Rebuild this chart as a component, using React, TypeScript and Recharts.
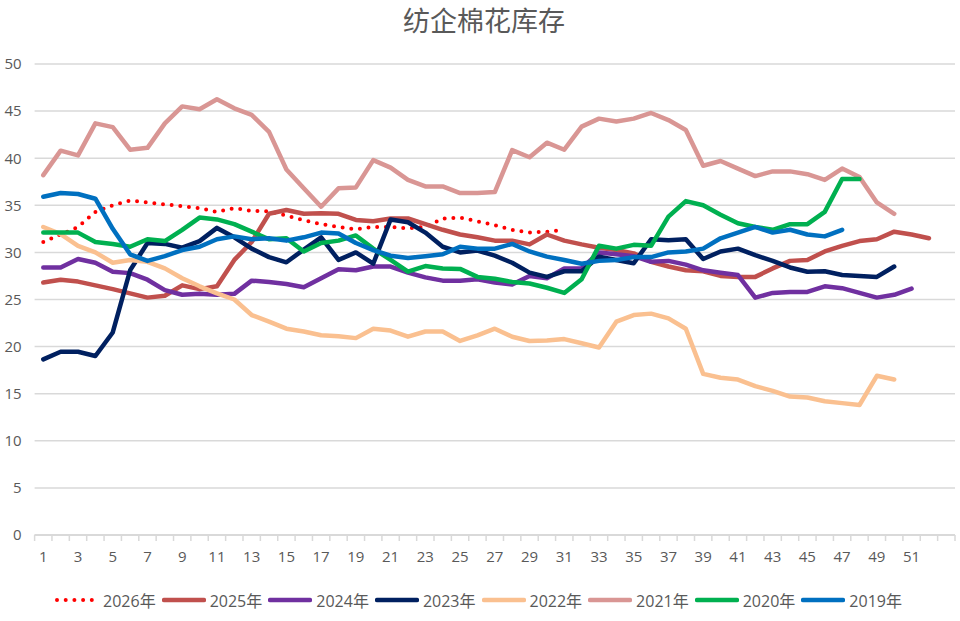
import React from 'react';
import { LineChart, Line, XAxis, YAxis, CartesianGrid, Legend } from 'recharts';

// ---- data ----
const CATEGORY_COUNT = 53;
const weeks: number[] = Array.from({ length: CATEGORY_COUNT }, (_, i) => i + 1);
const xLabels = [1, 3, 5, 7, 9, 11, 13, 15, 17, 19, 21, 23, 25, 27, 29, 31, 33, 35, 37, 39, 41, 43, 45, 47, 49, 51];
const yTicks = [0, 5, 10, 15, 20, 25, 30, 35, 40, 45, 50];

const s2026 = [31.1, 31.9, 32.7, 34.3, 35.0, 35.5, 35.3, 35.1, 34.9, 34.7, 34.3, 34.7, 34.4, 34.35, 33.9, 33.4, 33.0, 32.7, 32.45, 32.7, 32.7, 32.55, 32.7, 33.6, 33.7, 33.3, 32.9, 32.4, 32.1, 32.2, 32.4];
const s2025 = [26.8, 27.1, 26.9, 26.5, 26.1, 25.65, 25.2, 25.4, 26.5, 26.1, 26.4, 29.2, 31.1, 34.1, 34.5, 34.1, 34.15, 34.1, 33.45, 33.3, 33.6, 33.6, 33.0, 32.4, 31.9, 31.6, 31.25, 31.25, 30.85, 31.9, 31.25, 30.85, 30.5, 30.25, 29.9, 29.0, 28.5, 28.1, 28.0, 27.5, 27.4, 27.4, 28.3, 29.1, 29.2, 30.1, 30.7, 31.2, 31.4, 32.2, 31.9, 31.5];
const s2024 = [28.4, 28.4, 29.3, 28.9, 27.95, 27.8, 27.1, 26.0, 25.5, 25.6, 25.5, 25.6, 27.0, 26.85, 26.65, 26.3, 27.25, 28.2, 28.1, 28.5, 28.5, 27.85, 27.35, 27.0, 27.0, 27.15, 26.8, 26.6, 27.5, 27.25, 28.3, 28.3, 30.0, 29.8, 29.6, 29.0, 29.1, 28.7, 28.1, 27.85, 27.6, 25.2, 25.7, 25.8, 25.8, 26.4, 26.2, 25.7, 25.2, 25.5, 26.15];
const s2023 = [18.65, 19.45, 19.45, 19.0, 21.5, 28.1, 31.0, 30.9, 30.5, 31.2, 32.6, 31.6, 30.4, 29.5, 28.95, 30.3, 31.6, 29.2, 30.0, 28.8, 33.5, 33.2, 32.1, 30.6, 30.0, 30.2, 29.65, 28.9, 27.85, 27.4, 28.0, 28.0, 29.55, 29.2, 28.85, 31.4, 31.3, 31.4, 29.3, 30.1, 30.4, 29.7, 29.1, 28.4, 27.95, 28.0, 27.6, 27.5, 27.4, 28.5];
const s2022 = [32.7, 31.95, 30.7, 30.0, 28.9, 29.2, 29.0, 28.3, 27.25, 26.4, 25.65, 25.0, 23.35, 22.65, 21.9, 21.6, 21.2, 21.1, 20.9, 21.9, 21.7, 21.05, 21.6, 21.6, 20.6, 21.2, 21.9, 21.05, 20.6, 20.65, 20.8, 20.35, 19.9, 22.65, 23.35, 23.5, 23.0, 21.9, 17.1, 16.7, 16.5, 15.8, 15.3, 14.7, 14.6, 14.2, 14.0, 13.8, 16.9, 16.5];
const s2021 = [38.2, 40.8, 40.3, 43.7, 43.3, 40.9, 41.1, 43.7, 45.5, 45.2, 46.25, 45.3, 44.6, 42.8, 38.8, 36.8, 34.85, 36.8, 36.9, 39.8, 39.0, 37.7, 37.0, 37.0, 36.3, 36.3, 36.4, 40.85, 40.1, 41.65, 40.9, 43.35, 44.2, 43.9, 44.2, 44.8, 44.05, 43.0, 39.2, 39.7, 38.9, 38.1, 38.6, 38.6, 38.3, 37.7, 38.9, 38.0, 35.3, 34.1];
const s2020 = [32.1, 32.1, 32.1, 31.1, 30.9, 30.6, 31.4, 31.2, 32.4, 33.7, 33.5, 33.0, 32.2, 31.4, 31.5, 30.1, 31.0, 31.25, 31.8, 30.4, 29.2, 27.95, 28.55, 28.3, 28.25, 27.4, 27.2, 26.85, 26.7, 26.25, 25.7, 27.15, 30.7, 30.4, 30.8, 30.7, 33.8, 35.45, 35.0, 34.0, 33.1, 32.7, 32.4, 33.0, 33.0, 34.3, 37.8, 37.8];
const s2019 = [35.9, 36.3, 36.2, 35.7, 32.5, 29.8, 29.1, 29.6, 30.25, 30.6, 31.4, 31.7, 31.4, 31.5, 31.25, 31.6, 32.1, 32.0, 31.0, 30.25, 29.65, 29.4, 29.6, 29.8, 30.6, 30.4, 30.4, 30.9, 30.1, 29.55, 29.2, 28.8, 29.1, 29.2, 29.5, 29.5, 30.0, 30.1, 30.4, 31.5, 32.1, 32.7, 32.1, 32.4, 31.9, 31.7, 32.4];

const seriesDefs = [
  { key: 'y2026', name: '2026年', values: s2026, color: '#FF0000', dotted: true },
  { key: 'y2025', name: '2025年', values: s2025, color: '#C0504D', dotted: false },
  { key: 'y2024', name: '2024年', values: s2024, color: '#7030A0', dotted: false },
  { key: 'y2023', name: '2023年', values: s2023, color: '#002060', dotted: false },
  { key: 'y2022', name: '2022年', values: s2022, color: '#FAC090', dotted: false },
  { key: 'y2021', name: '2021年', values: s2021, color: '#D99694', dotted: false },
  { key: 'y2020', name: '2020年', values: s2020, color: '#00B050', dotted: false },
  { key: 'y2019', name: '2019年', values: s2019, color: '#0070C0', dotted: false },
];

const data = weeks.map((w, i) => {
  const row: Record<string, number | undefined> = { week: w };
  seriesDefs.forEach((s) => {
    row[s.key] = s.values[i];
  });
  return row;
});

// ---- layout ----
const W = 960;
const H = 621;
const MARGIN = { top: 64, right: 5, bottom: 11, left: 4 };
const Y_AXIS_W = 30.6;
const PLOT_W = W - MARGIN.left - Y_AXIS_W - MARGIN.right;
const TEXT = '#595959';
const GRID = '#D9D9D9';
const FONT = '"Open Sans", "Noto Sans CJK SC", sans-serif';

const xBoundaryTicks = weeks.map((w) => w - 0.5).concat([CATEGORY_COUNT + 0.5]);

const XTick = (props: any) => {
  const { x, y, payload } = props;
  const step = PLOT_W / CATEGORY_COUNT;
  const label = payload.value + 0.5;
  return (
    <g>
      <line x1={x} x2={x} y1={y} y2={y + 6} stroke={GRID} strokeWidth={1.5} />
      {xLabels.includes(label) && (
        <text x={x + step / 2} y={y + 27} textAnchor="middle" fill={TEXT} fontSize={15} fontFamily={FONT}>
          {label}
        </text>
      )}
    </g>
  );
};

const LegendContent = (props: any) => {
  const payload = [...(props.payload || [])].sort(
    (a: any, b: any) =>
      seriesDefs.findIndex((s) => s.key === a.dataKey) - seriesDefs.findIndex((s) => s.key === b.dataKey)
  );
  return (
    <div style={{ display: 'flex', justifyContent: 'center', alignItems: 'center', height: 20, fontFamily: FONT, fontSize: 16, color: TEXT, paddingLeft: 4 }}>
      {payload.map((entry: any) => {
        const def = seriesDefs.find((s) => s.key === entry.dataKey);
        return (
          <div key={entry.value} style={{ display: 'flex', alignItems: 'center', marginRight: 6 }}>
            <svg width={44} height={10} style={{ marginRight: 4 }}>
              <line
                x1={2}
                x2={42}
                y1={5}
                y2={5}
                stroke={entry.color}
                strokeWidth={def && def.dotted ? 4 : 4.5}
                strokeLinecap="round"
                strokeDasharray={def && def.dotted ? '0 8.7' : undefined}
              />
            </svg>
            <span style={{ whiteSpace: 'nowrap' }}>{entry.value}</span>
          </div>
        );
      })}
    </div>
  );
};

export default function App() {
  return (
    <div style={{ position: 'absolute', left: 0, top: 0, width: W, height: H, background: '#fff' }}>
      <div
        style={{
          position: 'absolute',
          top: 2,
          left: 4,
          width: W,
          textAlign: 'center',
          fontFamily: '"Noto Sans CJK SC", sans-serif',
          fontSize: 27,
          lineHeight: '36px',
          color: TEXT,
          zIndex: 2,
        }}
      >
        纺企棉花库存
      </div>
      <LineChart width={W} height={H} data={data} margin={MARGIN}>
        <CartesianGrid vertical={false} stroke={GRID} strokeWidth={1.5} />
        <XAxis
          dataKey="week"
          type="number"
          domain={[0.5, CATEGORY_COUNT + 0.5]}
          ticks={xBoundaryTicks}
          interval={0}
          tick={<XTick />}
          tickLine={false}
          tickSize={0}
          tickMargin={0}
          axisLine={{ stroke: GRID, strokeWidth: 2 }}
          height={55}
        />
        <YAxis
          domain={[0, 50]}
          ticks={yTicks}
          width={Y_AXIS_W}
          axisLine={false}
          tickLine={false}
          tickSize={0}
          tickMargin={13}
          tick={{ fill: TEXT, fontSize: 15, fontFamily: FONT }}
        />
        <Legend verticalAlign="bottom" height={20} itemSorter={null as any} content={<LegendContent />} />
        {seriesDefs.map((s) => (
          <Line
            key={s.key}
            type="linear"
            dataKey={s.key}
            name={s.name}
            stroke={s.color}
            strokeWidth={s.dotted ? 4 : 4.5}
            strokeDasharray={s.dotted ? '0 8.7' : undefined}
            strokeLinecap="round"
            strokeLinejoin="round"
            dot={false}
            activeDot={false}
            isAnimationActive={false}
            connectNulls={false}
          />
        ))}
      </LineChart>
    </div>
  );
}
